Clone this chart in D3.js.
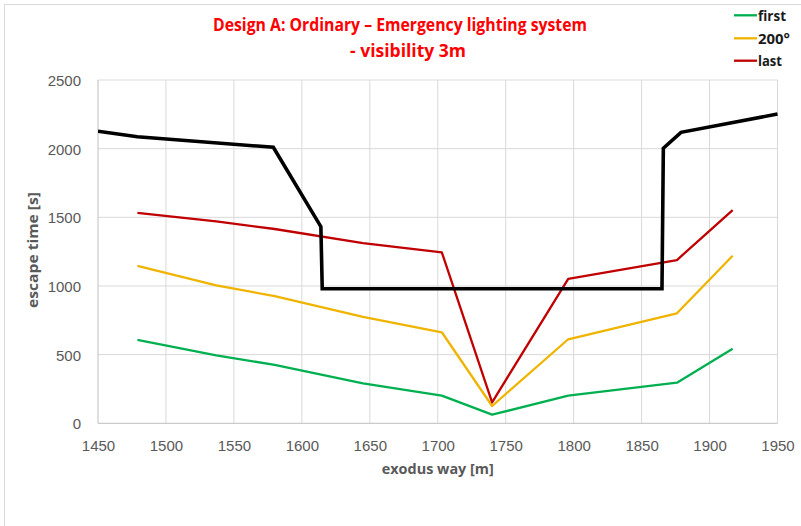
<!DOCTYPE html>
<html>
<head>
<meta charset="utf-8">
<script src="https://cdn.jsdelivr.net/npm/d3@7"></script>
<style>
  html, body { margin: 0; padding: 0; background: #fff; }
  svg { display: block; }
</style>
</head>
<body>
<div id="chart"></div>
<script>
// ---- data ----
const seriesX = [1479, 1537, 1580, 1645, 1703, 1740, 1796, 1876, 1917];
const firstVals = [607, 495, 425, 291, 201, 63, 201, 296, 543];
const deg200Vals = [1146, 1005, 926, 775, 663, 126, 612, 801, 1220];
const lastVals = [1532, 1470, 1415, 1312, 1245, 153, 1051, 1189, 1553];
const limitX = [1450, 1479, 1579, 1614, 1615, 1865, 1866, 1879, 1950];
const limitVals = [2127, 2087, 2010, 1432, 980, 980, 2003, 2119, 2252];
const xTicks = [1450, 1500, 1550, 1600, 1650, 1700, 1750, 1800, 1850, 1900, 1950];
const yTicks = [0, 500, 1000, 1500, 2000, 2500];
const legendLabels = ["first", "200°", "last"];
const titleLines = ["Design A: Ordinary \u2013 Emergency lighting system", "- visibility 3m"];
const xTitle = "exodus way [m]";
const yTitle = "escape time [s]";

const W = 801, H = 526;
const plot = { left: 98, right: 777.5, top: 80, bottom: 423.3 };

const svg = d3.select("#chart").append("svg").attr("width", W).attr("height", H);

// chart border
svg.append("rect").attr("x", 4.5).attr("y", 4.5).attr("width", 900).attr("height", 700)
  .attr("fill", "none").attr("stroke", "#d9d9d9").attr("stroke-width", 1);

const x = d3.scaleLinear().domain([1450, 1950]).range([plot.left, plot.right]);
const y = d3.scaleLinear().domain([0, 2500]).range([plot.bottom, plot.top]);

// gridlines
const grid = svg.append("g");
grid.selectAll("line.v").data(xTicks.slice(1)).enter().append("line")
  .attr("x1", d => x(d)).attr("x2", d => x(d))
  .attr("y1", plot.top).attr("y2", plot.bottom)
  .attr("stroke", "#d9d9d9").attr("stroke-width", 1);
grid.selectAll("line.h").data(yTicks.slice(1)).enter().append("line")
  .attr("x1", plot.left).attr("x2", plot.right)
  .attr("y1", d => y(d)).attr("y2", d => y(d))
  .attr("stroke", "#d9d9d9").attr("stroke-width", 1);

// axes lines
svg.append("line").attr("x1", plot.left).attr("x2", plot.right).attr("y1", plot.bottom).attr("y2", plot.bottom)
  .attr("stroke", "#bfbfbf").attr("stroke-width", 1);
svg.append("line").attr("x1", plot.left).attr("x2", plot.left).attr("y1", plot.top).attr("y2", plot.bottom)
  .attr("stroke", "#bfbfbf").attr("stroke-width", 1);

// tick labels via d3 axes (domain/ticks hidden)
const xAxis = d3.axisBottom(x).tickValues(xTicks).tickSize(0).tickPadding(0).tickFormat(d3.format("d"));
const gx = svg.append("g").attr("transform", `translate(0,${plot.bottom})`).call(xAxis);
gx.select(".domain").remove();
gx.selectAll("text").attr("y", 28).attr("dy", 0)
  .attr("font-family", "Liberation Sans, Arial, sans-serif").attr("font-size", 15).attr("fill", "#595959");

const yAxis = d3.axisLeft(y).tickValues(yTicks).tickSize(0).tickPadding(0).tickFormat(d3.format("d"));
const gy = svg.append("g").attr("transform", `translate(${plot.left},0)`).call(yAxis);
gy.select(".domain").remove();
gy.selectAll("text").attr("x", -17).attr("dy", "0.36em")
  .attr("font-family", "Liberation Sans, Arial, sans-serif").attr("font-size", 15).attr("fill", "#595959");

// clip
svg.append("clipPath").attr("id", "clip").append("rect")
  .attr("x", plot.left).attr("y", plot.top - 5).attr("width", plot.right - plot.left + 2).attr("height", plot.bottom - plot.top + 5);

const line = d3.line().x(d => x(d[0])).y(d => y(d[1])).curve(d3.curveLinear);
const series = [
  { vals: firstVals, color: "#00b050" },
  { vals: deg200Vals, color: "#f0b400" },
  { vals: lastVals, color: "#c00000" }
];
const lines = svg.append("g").attr("clip-path", "url(#clip)");
series.forEach(s => {
  lines.append("path").datum(seriesX.map((xv, i) => [xv, s.vals[i]]))
    .attr("d", line).attr("fill", "none").attr("stroke", s.color)
    .attr("stroke-width", 2.3).attr("stroke-linejoin", "round");
});
lines.append("path").datum(limitX.map((xv, i) => [xv, limitVals[i]]))
  .attr("d", line).attr("fill", "none").attr("stroke", "#000")
  .attr("stroke-width", 3.6).attr("stroke-linejoin", "miter");

// title
const titleFont = "Open Sans, Liberation Sans, Arial, sans-serif";
svg.append("text").attr("x", 400).attr("y", 31).attr("text-anchor", "middle")
  .attr("font-family", titleFont).attr("font-weight", "bold").attr("font-size", 17)
  .attr("fill", "#ff0000").attr("textLength", 374).attr("lengthAdjust", "spacingAndGlyphs")
  .text(titleLines[0]);
svg.append("text").attr("x", 408).attr("y", 57).attr("text-anchor", "middle")
  .attr("font-family", titleFont).attr("font-weight", "bold").attr("font-size", 17)
  .attr("fill", "#ff0000").attr("textLength", 116).attr("lengthAdjust", "spacingAndGlyphs")
  .text(titleLines[1]);

// legend
const legendY = [15.3, 38.3, 60.7];
const legendW = [28, 32, 24];
const leg = svg.append("g");
series.forEach((s, i) => {
  leg.append("line").attr("x1", 734).attr("x2", 757).attr("y1", legendY[i]).attr("y2", legendY[i])
    .attr("stroke", s.color).attr("stroke-width", 2.3);
  leg.append("text").attr("x", 758).attr("y", legendY[i]).attr("dy", "0.36em")
    .attr("font-family", titleFont).attr("font-weight", "bold").attr("font-size", 15)
    .attr("fill", "#1a1a1a").attr("textLength", legendW[i]).attr("lengthAdjust", "spacingAndGlyphs")
    .text(legendLabels[i]);
});

// axis titles
svg.append("text").attr("x", (plot.left + plot.right) / 2).attr("y", 474).attr("text-anchor", "middle")
  .attr("font-family", titleFont).attr("font-weight", "bold").attr("font-size", 15)
  .attr("fill", "#595959").attr("textLength", 112).attr("lengthAdjust", "spacingAndGlyphs")
  .text(xTitle);
svg.append("text").attr("transform", "translate(38,250) rotate(-90)").attr("text-anchor", "middle")
  .attr("font-family", titleFont).attr("font-weight", "bold").attr("font-size", 15)
  .attr("fill", "#595959").attr("textLength", 116).attr("lengthAdjust", "spacingAndGlyphs")
  .text(yTitle);
</script>
</body>
</html>
